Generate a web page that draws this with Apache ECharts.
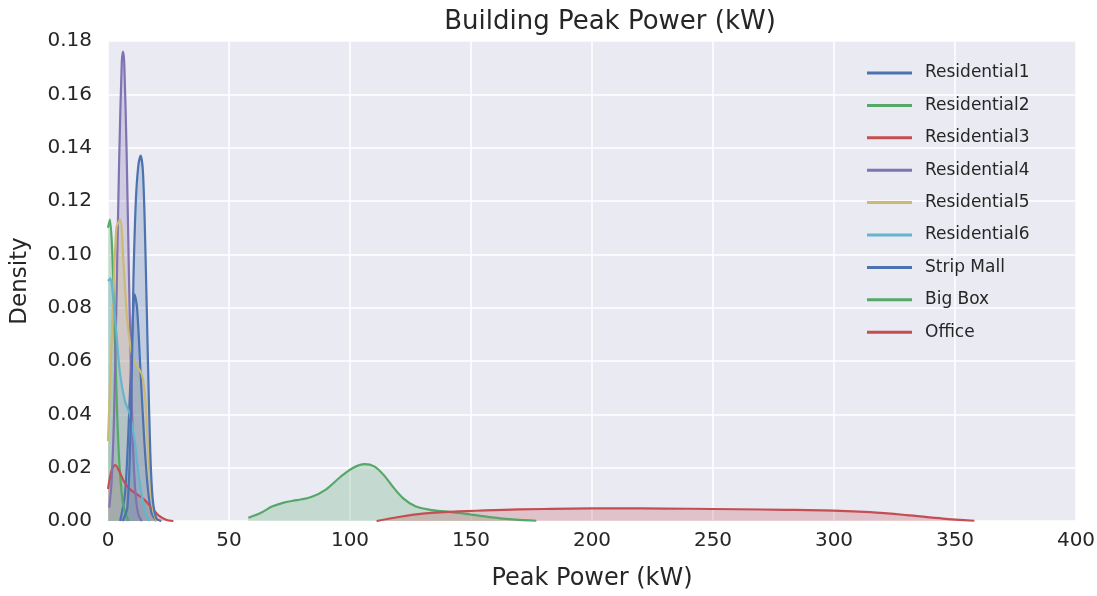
<!DOCTYPE html>
<html lang="en">

<head>
  <meta charset="UTF-8">
  <title>Building Peak Power (kW)</title>
  <script src="https://cdn.jsdelivr.net/npm/echarts@6/dist/echarts.min.js"></script>
  <style>
    body { margin: 0; background: #fff; }
  </style>
</head>

<body>
  <div id="peakPower" style="width:1097px;height:596px;"></div>
</body>

</html>
<script type="text/javascript">
  // estimated density curves, [kW, density]
  let residential1 = [[5, 0], [7, 0.01], [8.5, 0.035], [10, 0.07], [11, 0.085], [12, 0.08], [13.5, 0.055], [15, 0.03], [16.5, 0.012], [18, 0.003], [20, 0]];
  let residential2 = [[0, 0.11], [0.8, 0.113], [1.8, 0.1], [2.8, 0.07], [3.8, 0.04], [4.8, 0.02], [6.3, 0.006], [8.5, 0]];
  let residential3 = [[0, 0.012], [1.5, 0.019], [3, 0.021], [4.5, 0.019], [6.5, 0.015], [9, 0.012], [12, 0.01], [15, 0.008], [18, 0.005], [21, 0.002], [24, 0.0005], [27, 0]];
  let residential4 = [[0.5, 0.005], [1.5, 0.015], [2.5, 0.04], [3.5, 0.083], [4.6, 0.135], [5.7, 0.172], [6.2, 0.176], [6.7, 0.172], [7.7, 0.138], [8.7, 0.09], [9.7, 0.048], [10.7, 0.02], [11.7, 0.007], [12.7, 0.002], [14, 0]];
  let residential5 = [[0, 0.03], [2, 0.08], [3.5, 0.11], [5, 0.113], [6.5, 0.095], [8, 0.075], [10, 0.062], [12, 0.058], [14, 0.055], [15.5, 0.045], [17, 0.02], [18.5, 0.005], [20, 0]];
  let residential6 = [[0, 0.09], [1, 0.091], [2, 0.085], [3.5, 0.07], [5, 0.055], [7, 0.045], [9, 0.04], [11, 0.03], [13, 0.015], [15, 0.005], [17, 0]];
  let stripMall = [[6, 0], [8, 0.005], [9.5, 0.04], [10.5, 0.09], [11.5, 0.12], [12.5, 0.133], [13.5, 0.137], [14.5, 0.13], [15.5, 0.1], [16.5, 0.06], [17.5, 0.025], [18.5, 0.008], [20, 0.001], [22, 0]];
  let bigBox = [[58, 0.0012], [63, 0.003], [68, 0.0055], [73, 0.007], [78, 0.0078], [84, 0.009], [90, 0.0118], [96, 0.0165], [101, 0.0198], [106, 0.0213], [110, 0.0205], [114, 0.0172], [118, 0.0125], [122, 0.0085], [127, 0.0055], [133, 0.0042], [140, 0.0035], [148, 0.0027], [155, 0.0018], [162, 0.001], [170, 0.0004], [177, 0.0001]];
  let office = [[111, 0], [120, 0.0015], [130, 0.0028], [145, 0.0036], [160, 0.0041], [180, 0.0045], [200, 0.0047], [220, 0.0047], [240, 0.0046], [260, 0.0044], [280, 0.0042], [300, 0.0039], [315, 0.0033], [330, 0.0022], [345, 0.0009], [358, 0.0001]];

  let seriesNames = ['Residential1', 'Residential2', 'Residential3', 'Residential4', 'Residential5', 'Residential6', 'Strip Mall', 'Big Box', 'Office'];
  let seriesData = [residential1, residential2, residential3, residential4, residential5, residential6, stripMall, bigBox, office];
  let palette = ['#4C72B0', '#55A868', '#C44E52', '#8172B2', '#CCB974', '#64B5CD', '#4C72B0', '#55A868', '#C44E52'];

  let peakPower = echarts.init(document.getElementById('peakPower'));
  let font = 'DejaVu Sans';
  let option = {
    animation: false,
    color: palette,
    title: {
      text: 'Building Peak Power (kW)',
      left: 605, top: 4, textAlign: 'center',
      textStyle: { fontFamily: font, fontSize: 26, fontWeight: 'normal', color: '#262626' }
    },
    grid: {
      left: 108, right: 21, top: 41, bottom: 75,
      outerBoundsMode: 'none',
      containLabel: false,
      show: true, backgroundColor: '#EAEAF2', borderWidth: 0
    },
    legend: {
      orient: 'vertical',
      left: 862, top: 58,
      icon: 'rect',
      itemWidth: 45, itemHeight: 3,
      itemGap: 12.4,
      textStyle: { fontFamily: font, fontSize: 17, color: '#262626', lineHeight: 20, padding: [0, 0, 0, 8] },
      data: seriesNames
    },
    xAxis: {
      type: 'value', min: 0, max: 400, interval: 50,
      name: 'Peak Power (kW)', nameLocation: 'middle', nameGap: 46,
      nameTextStyle: { fontFamily: font, fontSize: 24, color: '#262626' },
      axisLine: { show: false }, axisTick: { show: false },
      axisLabel: { fontFamily: font, fontSize: 20, color: '#262626', margin: 10 },
      splitLine: { lineStyle: { color: '#fff', width: 1.5 } }
    },
    yAxis: {
      type: 'value', min: 0, max: 0.18, interval: 0.02,
      name: 'Density', nameLocation: 'middle', nameGap: 76,
      nameTextStyle: { fontFamily: font, fontSize: 23, color: '#262626' },
      axisLine: { show: false }, axisTick: { show: false },
      axisLabel: { fontFamily: font, fontSize: 20, color: '#262626', margin: 16, formatter: v => v.toFixed(2) },
      splitLine: { lineStyle: { color: '#fff', width: 1.5 } }
    },
    series: seriesNames.map((name, i) => ({
      name: name,
      type: 'line',
      data: seriesData[i],
      symbol: 'none',
      smooth: 0.3,
      lineStyle: { width: 2.2, color: palette[i] },
      areaStyle: { color: palette[i], opacity: 0.25 }
    }))
  };
  peakPower.setOption(option);
</script>
